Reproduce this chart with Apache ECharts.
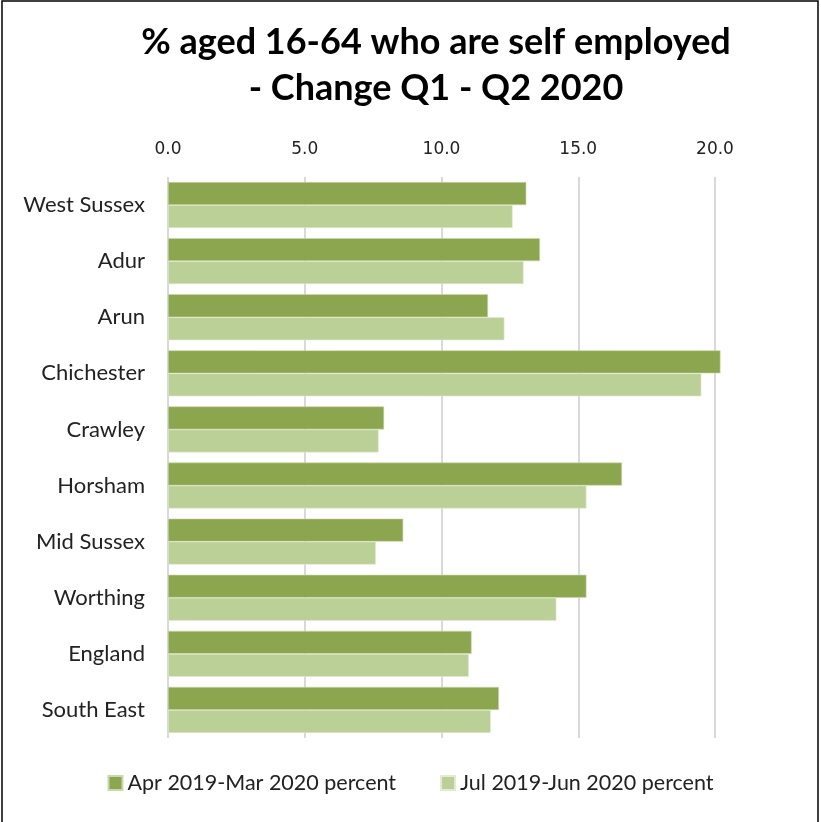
<!DOCTYPE html>
<html><head><meta charset="utf-8">
<script src="https://cdn.jsdelivr.net/npm/echarts@6/dist/echarts.min.js"></script>
<style>html,body{margin:0;padding:0;background:#fff}#c{width:821px;height:822px}</style>
</head><body><div id="c"></div>
<script>
const categories = ["West Sussex","Adur","Arun","Chichester","Crawley","Horsham","Mid Sussex","Worthing","England","South East"];
const seriesNames = ["Apr 2019-Mar 2020 percent","Jul 2019-Jun 2020 percent"];
const aprMar = [13.1, 13.6, 11.7, 20.2, 7.9, 16.6, 8.6, 15.3, 11.1, 12.1];
const julJun = [12.6, 13.0, 12.3, 19.5, 7.7, 15.3, 7.6, 14.2, 11.0, 11.8];
const titleText = "% aged 16-64 who are self employed\n- Change Q1 - Q2 2020";

const FONT = 'Lato, "Open Sans", sans-serif';
const chart = echarts.init(document.getElementById('c'), null, {renderer:'canvas'});
chart.setOption({
  animation: false,
  title: {
    text: titleText, left: 431, top: 14, textAlign: 'center',
    textStyle: {fontFamily: FONT, fontSize: 36, fontWeight: 'bold', color: '#000', lineHeight: 46}
  },
  legend: {
    bottom: 23, left: 'center', itemWidth: 14, itemHeight: 14, itemGap: 44,
    icon: 'rect',
    textStyle: {fontFamily: FONT, fontSize: 21.5, color: '#222'},
    data: seriesNames
  },
  grid: {left: 168, right: 106, top: 177, bottom: 84, containLabel: false},
  xAxis: {
    type: 'value', position: 'top', min: 0, max: 20, interval: 5,
    axisLine: {show: false}, axisTick: {show: false},
    axisLabel: {formatter: v => v.toFixed(1), fontFamily: '"DejaVu Sans", sans-serif', fontSize: 17, color: '#222', margin: 19},
    splitLine: {lineStyle: {color: '#d9d9d9', width: 2}}
  },
  yAxis: {
    type: 'category', data: categories, inverse: true,
    axisLine: {show: false}, axisTick: {show: false},
    axisLabel: {fontFamily: FONT, fontSize: 22, color: '#222', margin: 23}
  },
  series: [
    {name: seriesNames[0], type: 'bar', data: aprMar, clip: false, barGap: '0%', barCategoryGap: '18%',
     itemStyle: {color: '#8BA64F', borderColor: '#c9d9a9', borderWidth: 0.6}},
    {name: seriesNames[1], type: 'bar', data: julJun, clip: false, barGap: '0%', barCategoryGap: '18%',
     itemStyle: {color: '#BBD097', borderColor: '#e2ebd2', borderWidth: 0.6}}
  ],
  graphic: [{type: 'rect', shape: {x: 2, y: 1, width: 816, height: 830}, style: {fill: 'none', stroke: '#000', lineWidth: 1.5}, silent: true}]
});
</script></body></html>
